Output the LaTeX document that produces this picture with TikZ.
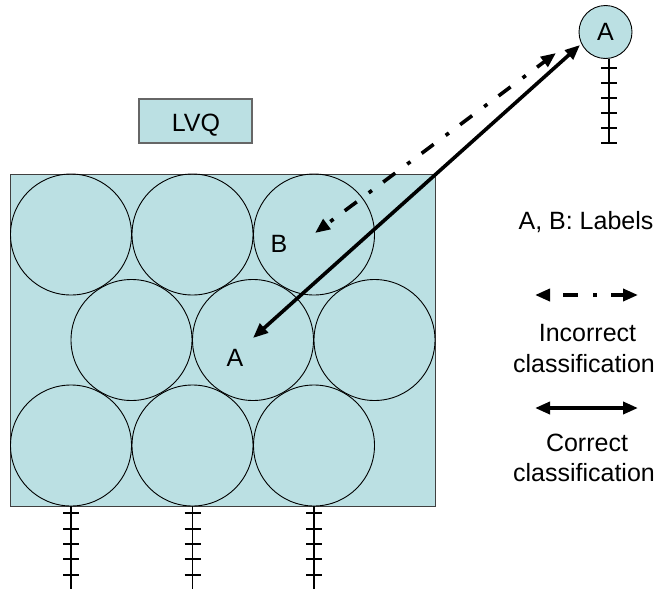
\documentclass[tikz,border=0pt]{standalone}
\usepackage{fontspec}
\setmainfont{Liberation Sans}
\usetikzlibrary{arrows.meta}
\definecolor{lvqfill}{HTML}{BBE0E3}
\begin{document}
\begin{tikzpicture}[x=1pt,y=-1pt,
  lbl/.style={font=\fontsize{25}{27}\selectfont, inner sep=0pt, anchor=base},
  unit/.style={circle, draw=black, line width=0.9pt, minimum size=121pt, inner sep=0pt},
  stem/.style={line width=1.2pt, draw=black},
  arr/.style={line width=3.6pt, {Triangle[length=15pt,width=12pt]}-{Triangle[length=15pt,width=12pt]}},
  dasharr/.style={arr, dash pattern=on 15pt off 15pt on 4pt off 14pt}]
\useasboundingbox (0,0) rectangle (664,589);
% map
\node[draw=black!75, line width=1.3pt, fill=lvqfill, minimum width=425pt, minimum height=332pt,
      inner sep=0pt, anchor=north west] (map) at (10,174) {};
% units
\node[unit] (c11) at (71,234.5) {};
\node[unit] (c12) at (192.5,234.5) {};
\node[unit] (c13) at (314,234.5) {};
\node[unit] (c21) at (131.5,340) {};
\node[unit] (c22) at (253,340) {};
\node[unit] (c23) at (374.5,340) {};
\node[unit] (c31) at (71,445.5) {};
\node[unit] (c32) at (192.5,445.5) {};
\node[unit] (c33) at (314,445.5) {};
% stems below
\foreach \x/\n in {71/a,192.5/b,314/c}{
  \coordinate (s\n) at (\x,589);
  \draw[stem] (\x,506) -- (s\n);
  \foreach \y in {513,529,544,559,575}{
    \draw[stem] (\x-8,\y) -- (\x+8,\y);
  }
}
% LVQ box
\node[draw=black!60, line width=1.2pt, fill=lvqfill, minimum width=113pt, minimum height=44pt,
      inner sep=0pt] (lvq) at (195.5,121) {};
\node[lbl, anchor=base] (lvqt) at (196,131) {LVQ};
% input node
\node[circle, draw=black, line width=0.9pt, fill=lvqfill, minimum size=53pt, inner sep=0pt,
      font=\fontsize{25}{27}\selectfont] (sA) at (605.5,32) {A};
\coordinate (sAstem) at (609,143);
\draw[stem] (609,59) -- (sAstem);
\foreach \y in {68,83,98,113,128,143}{
  \draw[stem] (601,\y) -- (617,\y);
}
% labels
\node[lbl] (labB) at (279,252) {B};
\node[lbl] (labA) at (235,366) {A};
% arrows
\coordinate (tA) at (253,338);
\coordinate (tS) at (580,45);
\coordinate (tB) at (315,233);
\coordinate (tS2) at (556,53);
\draw[arr] (tA) -- (tS);
\draw[dasharr, dash phase=25pt] (tB) -- (tS2);
% legend
\node[lbl] (leg) at (586,229) {A, B: Labels};
\coordinate (l1a) at (535,295);
\coordinate (l1b) at (638,295);
\draw[dasharr, dash phase=34pt] (l1a) -- (l1b);
\node[lbl] (inc1) at (587.5,341) {Incorrect};
\node[lbl] (inc2) at (584,372) {classification};
\coordinate (l2a) at (535,408);
\coordinate (l2b) at (638,408);
\draw[arr] (l2a) -- (l2b);
\node[lbl] (cor1) at (587,451) {Correct};
\node[lbl] (cor2) at (584,481) {classification};
\end{tikzpicture}
\end{document}
